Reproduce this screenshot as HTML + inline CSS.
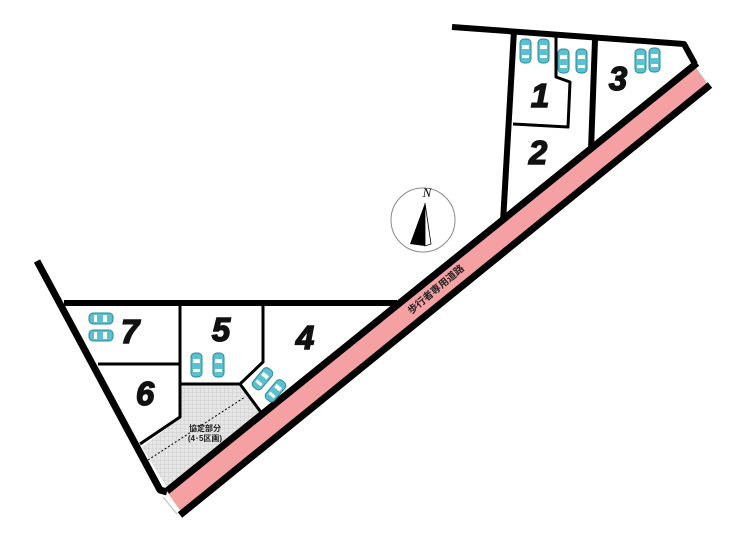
<!DOCTYPE html>
<html><head><meta charset="utf-8"><style>body{margin:0;background:#fff}svg{display:block}</style></head><body>
<svg width="740" height="537" viewBox="0 0 740 537" xmlns="http://www.w3.org/2000/svg">
<defs>
<pattern id="g" width="4" height="4" patternUnits="userSpaceOnUse"><rect width="4" height="4" fill="#e6e6e6"/><path d="M0 0H4M0 0V4" stroke="#c8c8c8" stroke-width="0.8"/></pattern>
<g id="car"><rect x="0" y="0" width="11" height="24" rx="4" fill="#5bc0cf" stroke="#2a8a9a" stroke-width="1"/><rect x="2" y="6" width="7" height="4" fill="#fff"/><rect x="2" y="16" width="7" height="3" fill="#fff"/></g>
</defs>
<polygon points="167,492 695,66 708,85 182,513" fill="#f5a0a3"/>
<line x1="694" y1="66" x2="706" y2="82" stroke="#bbb" stroke-width="1"/>
<line x1="163" y1="497" x2="177" y2="514" stroke="#bbb" stroke-width="1"/>
<polygon points="180,385 240,385 262,414 167,488 142,447 180,418" fill="url(#g)"/>
<line x1="148" y1="460" x2="245" y2="397" stroke="#000" stroke-width="1" stroke-dasharray="2,2"/>
<g fill="none" stroke="#000" stroke-linejoin="round">
<line x1="167" y1="491" x2="697" y2="63" stroke-width="7"/>
<line x1="180" y1="515" x2="710" y2="85" stroke-width="7"/>
<polyline points="452,27 684,44 695,64" stroke-width="6"/>
<line x1="514" y1="30" x2="503" y2="222" stroke-width="6"/>
<line x1="595" y1="40" x2="591" y2="150" stroke-width="6"/>
<polyline points="556,36 556,77 570,82 568,127 513,124" stroke-width="3"/>
<polyline points="37,261 160,490 167,492" stroke-width="7"/>
<line x1="64" y1="303" x2="397" y2="303" stroke-width="6"/>
<polyline points="180,303 180,417 140,444" stroke-width="3"/>
<line x1="98" y1="364" x2="180" y2="364" stroke-width="3"/>
<line x1="180" y1="384" x2="240" y2="384" stroke-width="3"/>
<polyline points="263,303 263,362 240,384 263,415" stroke-width="3"/>
</g>
<g>
<use href="#car" x="520" y="39"/><use href="#car" x="538" y="39"/>
<use href="#car" x="558" y="49"/><use href="#car" x="576" y="49"/>
<use href="#car" x="635" y="49"/><use href="#car" x="649" y="48"/>
<use href="#car" x="191" y="353"/><use href="#car" x="213" y="353"/>
<use href="#car" transform="translate(113,313) rotate(90)"/>
<use href="#car" transform="translate(113,330) rotate(90)"/>
<use href="#car" transform="translate(266,366) rotate(40)"/>
<use href="#car" transform="translate(279,378) rotate(40)"/>
</g>
<g font-family="Liberation Sans, sans-serif" font-weight="bold" font-style="italic" font-size="33" fill="#111" text-anchor="middle" stroke="#111" stroke-width="1.5">
<text x="540" y="107">1</text><text x="538" y="164">2</text><text x="618" y="90">3</text>
<text x="305" y="349">4</text><text x="221" y="341">5</text><text x="145" y="405">6</text><text x="130" y="343">7</text>
</g>
<g font-family="Liberation Sans, 'Noto Sans CJK JP', sans-serif" font-size="8" font-weight="bold" fill="#222" text-anchor="middle">
<text x="205" y="431">協定部分</text><text x="205" y="441">(4･5区画)</text>
</g>
<text transform="translate(438,292) rotate(-40)" font-family="Liberation Sans, 'Noto Sans CJK JP', sans-serif" font-size="10" font-weight="bold" fill="#222" text-anchor="middle">歩行者専用道路</text>
<circle cx="423" cy="220" r="32" fill="none" stroke="#888" stroke-width="1"/>
<text x="427" y="197" font-family="Liberation Serif, serif" font-style="italic" font-size="13" text-anchor="middle">N</text>
<polygon points="425,203 410,244 425,246" fill="#000"/>
<polygon points="425,203 425,246 431,244" fill="#fff" stroke="#000" stroke-width="0.8"/>
</svg>
</body></html>
